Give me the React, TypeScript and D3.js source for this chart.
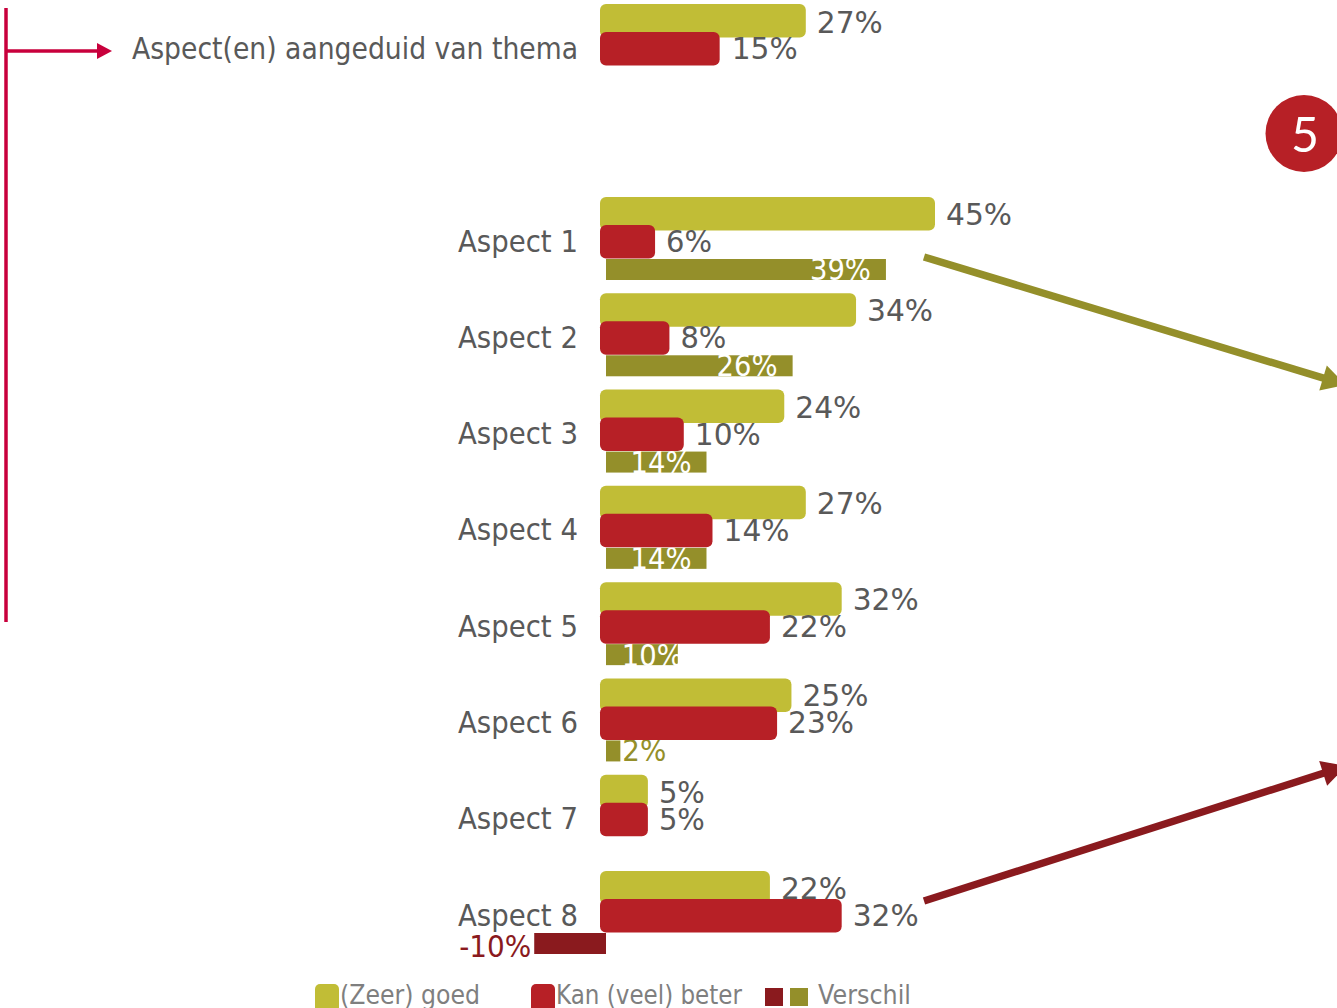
import React from "react";
import * as d3 from "d3";

const categories = ["Aspect 1", "Aspect 2", "Aspect 3", "Aspect 4", "Aspect 5", "Aspect 6", "Aspect 7", "Aspect 8"];
const goodValues = [45, 34, 24, 27, 32, 25, 5, 22];
const betterValues = [6, 8, 10, 14, 22, 23, 5, 32];
const diffValues: (number | null)[] = [39, 26, 14, 14, 10, 2, null, -10];
const themeLabel = "Aspect(en) aangeduid van thema";
const themeGood = 27;
const themeBetter = 15;
const legendLabels = ["(Zeer) goed", "Kan (veel) beter", "Verschil"];

const YELLOW = "#c1bd36";
const RED = "#b72026";
const OLIVE = "#948f2a";
const DARK = "#8a1a1e";
const PINK = "#c8003c";
const TEXT = "#595959";
const FONT = "'DejaVu Sans', sans-serif";

const x = d3.scaleLinear().domain([0, 45]).range([606, 929]);
const rowY = d3.scaleLinear().domain([0, 7]).range([197, 871]);
const PAD = 6;
const BAR_H = 33.5;
const RED_OFF = 28;
const DIFF_OFF = 62;
const DIFF_H = 21;

const pctWidth = (s: string) => (s.length === 2 ? 46 : s.length === 3 ? 66 : 73);

function Pct({ px, py, v, anchor = "start", fill = TEXT, w }: any) {
  const s = `${v}%`;
  return (
    <text x={px} y={py} textAnchor={anchor} dominantBaseline="central" fontFamily={FONT} fontSize={31} fill={fill}
      textLength={w ?? pctWidth(s)} lengthAdjust="spacingAndGlyphs">{s}</text>
  );
}

function Bar({ top, v, fill }: any) {
  return <rect x={x(0) - PAD} y={top} width={x(v) - x(0) + 2 * PAD} height={BAR_H} rx={6} fill={fill} />;
}

function arrowHead(x1: number, y1: number, x2: number, y2: number, size: number, half: number) {
  const a = Math.atan2(y2 - y1, x2 - x1);
  const bx = x2 - size * Math.cos(a);
  const by = y2 - size * Math.sin(a);
  const nx = -Math.sin(a) * half;
  const ny = Math.cos(a) * half;
  return `${x2},${y2} ${bx + nx},${by + ny} ${bx - nx},${by - ny}`;
}

function diffLabel(v: number, cy: number) {
  if (v < 0) return <Pct px={x(v) - 3} py={cy + 3} v={v} anchor="end" fill={DARK} w={72} />;
  if (v < 5) return <Pct px={x(v) + 2} py={cy} v={v} fill={OLIVE} w={44} />;
  if (v < 14) return <Pct px={x(v) + 5} py={cy + 1} v={v} anchor="end" fill="#ffffff" w={61} />;
  return <Pct px={x(v) - 15} py={cy} v={v} anchor="end" fill="#ffffff" w={61} />;
}

function Lead({ x1, y1, x2, y2, color }: any) {
  const a = Math.atan2(y2 - y1, x2 - x1);
  const ex = x2 - 14 * Math.cos(a);
  const ey = y2 - 14 * Math.sin(a);
  return (
    <g>
      <line x1={x1} y1={y1} x2={ex} y2={ey} stroke={color} strokeWidth={7.5} />
      <polygon points={arrowHead(x1, y1, x2, y2, 24, 13)} fill={color} />
    </g>
  );
}

export default function App() {
  return (
    <svg width={1337} height={1008} style={{ position: "fixed", left: 0, top: 0, display: "block" }}>
      <rect width={1337} height={1008} fill="#ffffff" />

      <line x1={6} y1={8} x2={6} y2={622} stroke={PINK} strokeWidth={3.5} />
      <line x1={6} y1={51} x2={98} y2={51} stroke={PINK} strokeWidth={3.5} />
      <polygon points="112,51 97,43 97,59" fill={PINK} />

      <text x={578} y={48} textAnchor="end" dominantBaseline="central" fontFamily={FONT} fontSize={30} fill={TEXT}
        textLength={446} lengthAdjust="spacingAndGlyphs">{themeLabel}</text>
      <Bar top={4} v={themeGood} fill={YELLOW} />
      <Bar top={32} v={themeBetter} fill={RED} />
      <Pct px={x(themeGood) + PAD + 11} py={22} v={themeGood} />
      <Pct px={x(themeBetter) + PAD + 12} py={48} v={themeBetter} />

      {categories.map((c, i) => {
        const top = rowY(i);
        const d = diffValues[i];
        return (
          <g key={c}>
            <text x={578} y={top + 44} textAnchor="end" dominantBaseline="central" fontFamily={FONT} fontSize={30} fill={TEXT}
              textLength={120} lengthAdjust="spacingAndGlyphs">{c}</text>
            {d !== null && (
              <rect x={Math.min(x(0), x(d))} y={top + DIFF_OFF} width={Math.abs(x(d) - x(0))} height={DIFF_H}
                fill={d < 0 ? DARK : OLIVE} />
            )}
            {d !== null && diffLabel(d, top + 72)}
            <Bar top={top} v={goodValues[i]} fill={YELLOW} />
            <Pct px={x(goodValues[i]) + PAD + 11} py={top + 17} v={goodValues[i]} />
            <Bar top={top + RED_OFF} v={betterValues[i]} fill={RED} />
            <Pct px={x(betterValues[i]) + PAD + 11} py={top + 44} v={betterValues[i]} />
          </g>
        );
      })}

      <Lead x1={924} y1={257} x2={1346} y2={385} color={OLIVE} />
      <Lead x1={924} y1={901} x2={1346} y2={766} color={DARK} />

      <circle cx={1304} cy={133.5} r={38.5} fill={RED} />
      <text x={1305} y={133} textAnchor="middle" dominantBaseline="central" fontFamily="Lato, sans-serif" fontSize={48} fill="#ffffff"
        textLength={28} lengthAdjust="spacingAndGlyphs">5</text>

      <rect x={315} y={984} width={24} height={28} rx={5} fill={YELLOW} />
      <text x={340} y={995} dominantBaseline="central" fontFamily={FONT} fontSize={26} fill="#7f7f7f"
        textLength={140} lengthAdjust="spacingAndGlyphs">{legendLabels[0]}</text>
      <rect x={531} y={984} width={24} height={28} rx={5} fill={RED} />
      <text x={556} y={995} dominantBaseline="central" fontFamily={FONT} fontSize={26} fill="#7f7f7f"
        textLength={186} lengthAdjust="spacingAndGlyphs">{legendLabels[1]}</text>
      <rect x={765} y={988} width={18} height={18} fill={DARK} />
      <rect x={790} y={988} width={18} height={18} fill={OLIVE} />
      <text x={818} y={995} dominantBaseline="central" fontFamily={FONT} fontSize={26} fill="#7f7f7f"
        textLength={93} lengthAdjust="spacingAndGlyphs">{legendLabels[2]}</text>
    </svg>
  );
}
